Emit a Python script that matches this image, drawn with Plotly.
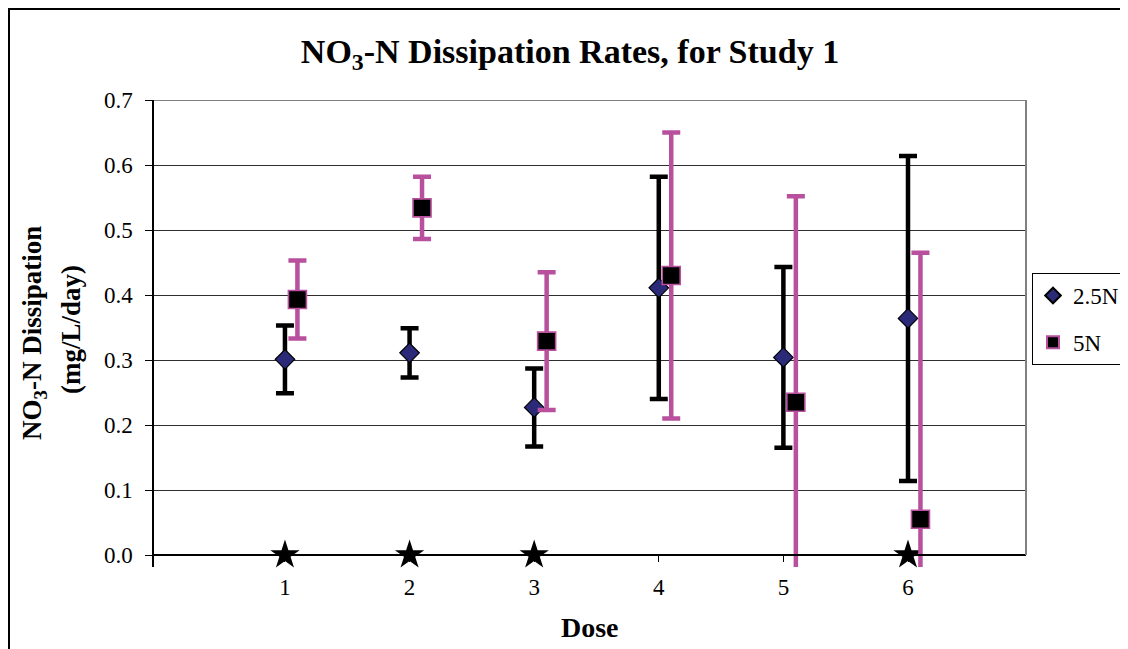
import plotly.graph_objects as go

# ---- data ----
dose = [1, 2, 3, 4, 5, 6]
tick_labels = ["1", "2", "3", "4", "5", "6"]

rate_25N = [0.301, 0.311, 0.227, 0.411, 0.304, 0.364]
err_25N = [0.052, 0.038, 0.060, 0.171, 0.139, 0.250]

rate_5N = [0.393, 0.534, 0.329, 0.430, 0.235, 0.055]
err_5N = [0.060, 0.048, 0.106, 0.220, 0.317, 0.410]

star_dose = [1, 2, 3, 6]
star_value = [0.0, 0.0, 0.0, 0.0]

y_ticks = [0.0, 0.1, 0.2, 0.3, 0.4, 0.5, 0.6, 0.7]

# ---- styling ----
SERIF = "Liberation Serif, Times New Roman, serif"
MAGENTA = "#B8509E"
NAVY = "#2A2A78"
DODGE = 0.1  # horizontal offset of the 5N series

OFF = 8  # the page body adds an 8px margin around the figure
W, H = 1128 - OFF, 649 - OFF
PLOT_L, PLOT_R, PLOT_T, PLOT_B = 154 - OFF, 1026 - OFF, 100 - OFF, 567 - OFF
ML, MR, MT, MB = PLOT_L, W - PLOT_R, PLOT_T, H - PLOT_B
Y_MIN, Y_MAX = -0.01846, 0.7
X_MIN, X_MAX = -0.051, 6.947

fig = go.Figure()

fig.add_trace(go.Scatter(
    x=star_dose, y=star_value, mode="markers", showlegend=False,
    marker=dict(symbol="star", size=22, color="black"),
    cliponaxis=False, hoverinfo="skip",
))

fig.add_trace(go.Scatter(
    x=dose, y=rate_25N, mode="markers", name="2.5N", legendgroup="a",
    marker=dict(symbol="diamond", size=15, color=NAVY,
                line=dict(color="black", width=1.2)),
    error_y=dict(type="data", array=err_25N, visible=True,
                 color="black", thickness=4.5, width=9),
    cliponaxis=False,
))

fig.add_trace(go.Scatter(
    x=[d + DODGE for d in dose], y=rate_5N, mode="markers", name="5N", legendgroup="b",
    marker=dict(symbol="square", size=18, color="black",
                line=dict(color=MAGENTA, width=1.6)),
    error_y=dict(type="data", array=err_5N, visible=True,
                 color=MAGENTA, thickness=4.5, width=9),
))

plot_h = PLOT_B - PLOT_T
plot_w = PLOT_R - PLOT_L


def px_x(px_ref):
    """reference-image x pixel -> paper fraction"""
    return (px_ref - OFF - PLOT_L) / plot_w


def px_y(py_ref):
    """reference-image y pixel -> paper fraction"""
    return (PLOT_B - (py_ref - OFF)) / plot_h


fig.update_layout(
    width=W, height=H,
    margin=dict(l=ML, r=MR, t=MT, b=MB, pad=0, autoexpand=False),
    paper_bgcolor="white", plot_bgcolor="white",
    font=dict(family=SERIF, size=23, color="black"),
    title=dict(
        text="<b>NO<sub>3</sub>-N Dissipation Rates, for Study 1</b>",
        font=dict(family=SERIF, size=34, color="black"),
        x=(570 - OFF) / W, xanchor="center", xref="container",
        y=1 - (51 - OFF) / H, yanchor="middle", yref="container",
    ),
    xaxis=dict(
        range=[X_MIN, X_MAX], tickmode="array", tickvals=dose, ticktext=tick_labels,
        showgrid=False, zeroline=False,
        showline=True, linecolor="black", linewidth=1.5,
        ticks="outside", ticklen=6, tickwidth=1, tickcolor="black",
        anchor="free", position=(0 - Y_MIN) / (Y_MAX - Y_MIN),
        tickfont=dict(family=SERIF, size=23, color="black"),
        ticklabelstandoff=6,
    ),
    yaxis=dict(
        range=[Y_MIN, Y_MAX], tickmode="array", tickvals=y_ticks,
        ticktext=[f"{v:.1f}" for v in y_ticks],
        showgrid=True, gridcolor="#2e2e2e", gridwidth=1,
        zeroline=False,
        showline=True, linecolor="black", linewidth=1.5,
        ticks="outside", ticklen=7, tickwidth=1, tickcolor="black",
        tickfont=dict(family=SERIF, size=23, color="black"),
        ticklabelstandoff=8,
    ),
    legend=dict(
        x=px_x(1032), y=px_y(273),
        xanchor="left", yanchor="top",
        bgcolor="white", bordercolor="black", borderwidth=1,
        font=dict(family=SERIF, size=23, color="black"),
        tracegroupgap=14, itemsizing="constant",
    ),
    showlegend=True,
)

fig.add_annotation(
    text="<b>NO<sub>3</sub>-N Dissipation</b>",
    xref="paper", yref="paper",
    x=px_x(34), y=px_y(333),
    xanchor="center", yanchor="middle", textangle=-90, showarrow=False,
    font=dict(family=SERIF, size=27, color="black"),
)
fig.add_annotation(
    text="<b>(mg/L/day)</b>",
    xref="paper", yref="paper",
    x=px_x(71), y=px_y(330),
    xanchor="center", yanchor="middle", textangle=-90, showarrow=False,
    font=dict(family=SERIF, size=27, color="black"),
)
fig.add_annotation(
    text="<b>Dose</b>", xref="paper", yref="paper",
    x=0.5, y=px_y(627), xanchor="center", yanchor="middle",
    showarrow=False, font=dict(family=SERIF, size=28, color="black"),
)

# top gridline / right border of plot area (gray), and outer chart border
fig.add_shape(type="line", xref="paper", yref="y", x0=1, x1=1, y0=0, y1=Y_MAX,
              line=dict(color="#808080", width=2))
fig.add_shape(type="line", xref="paper", yref="y", x0=0, x1=1, y0=Y_MAX, y1=Y_MAX,
              line=dict(color="#808080", width=2))
fig.add_shape(type="rect", xref="paper", yref="paper",
              x0=px_x(OFF + 1), x1=px_x(1300),
              y0=px_y(800), y1=px_y(OFF + 1),
              line=dict(color="black", width=2), fillcolor="rgba(0,0,0,0)", layer="below")

fig.write_html("out.html")
